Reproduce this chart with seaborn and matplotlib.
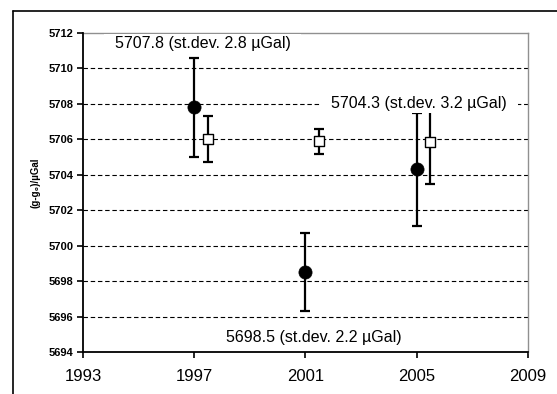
import matplotlib
matplotlib.use("Agg")
import matplotlib.pyplot as plt
from matplotlib.lines import Line2D
import seaborn as sns
import pandas as pd

# Data
years_abs = [1997, 2001, 2005]
g_abs = [5707.8, 5698.5, 5704.3]
err_abs = [2.8, 2.2, 3.2]
years_rel = [1997.5, 2001.5, 2005.5]
g_rel = [5706.0, 5705.9, 5705.85]
err_rel = [1.3, 0.7, 2.35]
ann_text = ["5707.8 (st.dev. 2.8 µGal)", "5704.3 (st.dev. 3.2 µGal)", "5698.5 (st.dev. 2.2 µGal)"]
ann_x = [1997.3, 2005.1, 2001.3]
ann_y = [5711.4, 5708.0, 5694.84]
xticks = [1993, 1997, 2001, 2005, 2009]
yticks = list(range(5694, 5713, 2))

sns.set_style("white")
plt.rcParams['font.family'] = ['Liberation Sans', 'DejaVu Sans']
plt.rcParams['text.color'] = 'black'
plt.rcParams['axes.labelcolor'] = 'black'
plt.rcParams['xtick.color'] = 'black'
plt.rcParams['ytick.color'] = 'black'

fig = plt.figure(figsize=(5.57, 3.94), dpi=100)
ax = fig.add_axes([83/557, 1-352/394, (527.7-83)/557, (352-33)/394])

df_abs = pd.DataFrame({"year": years_abs, "g": g_abs})
df_rel = pd.DataFrame({"year": years_rel, "g": g_rel})

ax.errorbar(years_abs, g_abs, yerr=err_abs, fmt='none', ecolor='black',
            elinewidth=1.6, capsize=3.3, capthick=1.6, zorder=3)
ax.errorbar(years_rel, g_rel, yerr=err_rel, fmt='none', ecolor='black',
            elinewidth=1.6, capsize=3.3, capthick=1.6, zorder=3)
sns.scatterplot(data=df_abs, x="year", y="g", marker='o', s=90, color='black',
                edgecolor='black', linewidth=0.5, ax=ax, zorder=4)
sns.scatterplot(data=df_rel, x="year", y="g", marker='s', s=55, color='white',
                edgecolor='black', linewidth=1.0, ax=ax, zorder=4)

ax.set_xlim(1993, 2009)
ax.set_ylim(5694, 5712)
ax.set_xticks(xticks)
ax.set_yticks(yticks)
ax.set_xticklabels([str(v) for v in xticks], fontsize=12)
ax.set_yticklabels([str(v) for v in yticks], fontsize=8, fontweight='bold')
ax.tick_params(axis='both', direction='out', length=4, width=1.2, color='black',
               labelcolor='black', left=True, bottom=True)
ax.tick_params(axis='y', pad=3)
ax.tick_params(axis='x', pad=8)

for v in yticks[1:-1]:
    ax.axhline(v, color='black', linewidth=0.8, linestyle=(0, (4, 2.5)), zorder=1)

for s in ['left', 'bottom']:
    ax.spines[s].set_color('black')
    ax.spines[s].set_linewidth(1.3)
for s in ['top', 'right']:
    ax.spines[s].set_color('#909090')
    ax.spines[s].set_linewidth(1.0)
    ax.spines[s].set_zorder(2)

ax.set_xlabel("")
ax.set_ylabel("(g-g₀)/µGal", fontsize=7, fontweight='bold', color='black')
ax.yaxis.set_label_coords(-0.095, 0.53)

for t, x, y in zip(ann_text, ann_x, ann_y):
    ax.text(x, y, "  " + t + "  ", fontsize=11.5, ha='center', va='center', color='black',
            bbox=dict(boxstyle='square,pad=0.12', facecolor='white', edgecolor='none'),
            zorder=6, clip_on=False)

# outer frame
fig.add_artist(Line2D([13/557, 13/557], [0, 1-11/394], transform=fig.transFigure, color='black', linewidth=1.2))
fig.add_artist(Line2D([13/557, 1], [1-11/394, 1-11/394], transform=fig.transFigure, color='black', linewidth=1.2))

fig.savefig("out.png", dpi=100)
